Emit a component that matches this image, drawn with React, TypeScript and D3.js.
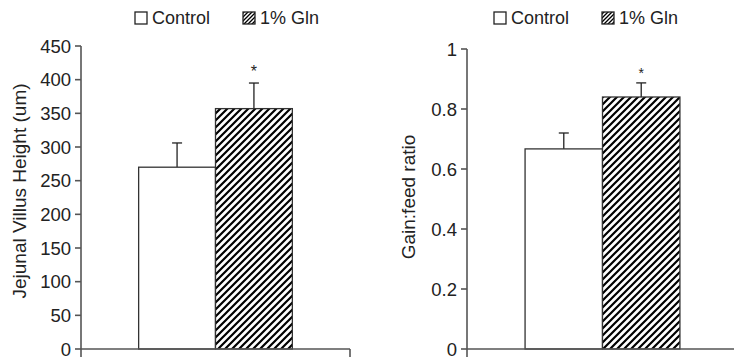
import React from "react";
import * as d3 from "d3";

const categories = ["Control", "1% Gln"];
const villusMean = [270, 357];
const villusSE = [36, 38];
const villusTicks = [0, 50, 100, 150, 200, 250, 300, 350, 400, 450];
const gainMean = [0.667, 0.84];
const gainSE = [0.053, 0.047];
const gainTicks = [0, 0.2, 0.4, 0.6, 0.8, 1];
const villusLabel = "Jejunal Villus Height (um)";
const gainLabel = "Gain:feed ratio";

const W = 734;
const H = 360;
const FONT = "'Liberation Sans', Arial, Helvetica, sans-serif";
const AXIS = "#555";
const INK = "#222";

type PanelProps = {
  x0: number;
  axisEnd: number;
  yMax: number;
  yTop: number;
  ticks: number[];
  means: number[];
  ses: number[];
  label: string;
  labelX: number;
  labelY: number;
  legendX: number[];
  starSize: number;
  starOffset: number;
  fmt: (v: number) => string;
};

function Panel(p: PanelProps) {
  const y0 = 349;
  const y = d3.scaleLinear().domain([0, p.yMax]).range([y0, p.yTop]);
  const x = d3
    .scaleBand<string>()
    .domain(categories)
    .range([p.x0, p.axisEnd])
    .paddingInner(0)
    .paddingOuter(0.75);
  const bw = x.bandwidth();
  return (
    <g>
      {/* legend */}
      <g fontFamily={FONT} fontSize={18} fill={INK}>
        <rect x={p.legendX[0]} y={12} width={12} height={12} fill="#fff" stroke={INK} strokeWidth={1.3} />
        <text x={p.legendX[0] + 17} y={24}>{categories[0]}</text>
        <rect x={p.legendX[1]} y={12} width={12} height={12} fill="url(#hatchSmall)" stroke={INK} strokeWidth={1.3} />
        <text x={p.legendX[1] + 17} y={24}>{categories[1]}</text>
      </g>
      {/* bars */}
      {categories.map((c, i) => {
        const bx = x(c)!;
        const top = y(p.means[i]);
        const cx = bx + bw / 2;
        const et = y(p.means[i] + p.ses[i]);
        return (
          <g key={c}>
            <line x1={cx} x2={cx} y1={top} y2={et} stroke={INK} strokeWidth={1.3} />
            <line x1={cx - 5} x2={cx + 5} y1={et} y2={et} stroke={INK} strokeWidth={1.3} />
            <rect
              x={bx}
              y={top}
              width={bw}
              height={y0 - top}
              fill={i === 0 ? "#fff" : "url(#hatch)"}
              stroke="#333"
              strokeWidth={1.3}
            />
            {i === 1 && (
              <text
                x={cx}
                y={et - p.starOffset}
                textAnchor="middle"
                fontFamily={FONT}
                fontSize={p.starSize}
                fill={INK}
              >
                *
              </text>
            )}
          </g>
        );
      })}
      {/* y axis */}
      <line x1={p.x0} x2={p.x0} y1={y(p.yMax)} y2={y0 + 8} stroke={AXIS} strokeWidth={1.6} />
      {p.ticks.map((t) => (
        <g key={t}>
          <line x1={p.x0 - 6} x2={p.x0} y1={y(t)} y2={y(t)} stroke={AXIS} strokeWidth={1.6} />
          <text
            x={p.x0 - 10}
            y={y(t)}
            dy="0.36em"
            textAnchor="end"
            fontFamily={FONT}
            fontSize={18.5}
            fill={INK}
          >
            {p.fmt(t)}
          </text>
        </g>
      ))}
      {/* x axis */}
      <line x1={p.x0} x2={p.axisEnd} y1={y0} y2={y0} stroke={AXIS} strokeWidth={1.6} />
      <line x1={p.axisEnd} x2={p.axisEnd} y1={y0} y2={y0 + 8} stroke={AXIS} strokeWidth={1.6} />
      <text
        transform={`translate(${p.labelX},${p.labelY}) rotate(-90)`}
        textAnchor="middle"
        dominantBaseline="central"
        fontFamily={FONT}
        fontSize={19}
        fill={INK}
      >
        {p.label}
      </text>
    </g>
  );
}

export default function App() {
  return (
    <svg
      width={W}
      height={H}
      viewBox={`0 0 ${W} ${H}`}
      style={{ position: "absolute", left: 0, top: 0, background: "#fff" }}
    >
      <defs>
        <pattern id="hatch" patternUnits="userSpaceOnUse" width={7} height={7}>
          <rect width={7} height={7} fill="#fff" />
          <path d="M-1,8 L8,-1 M-4,4 L4,-4 M3,11 L11,3" stroke="#000" strokeWidth={2.2} />
        </pattern>
        <pattern id="hatchSmall" patternUnits="userSpaceOnUse" width={4} height={4}>
          <rect width={4} height={4} fill="#fff" />
          <path d="M-1,5 L5,-1 M-2,2 L2,-2 M2,6 L6,2" stroke="#000" strokeWidth={1.3} />
        </pattern>
      </defs>
      <Panel
        x0={81}
        axisEnd={350}
        yMax={450}
        yTop={46}
        ticks={villusTicks}
        means={villusMean}
        ses={villusSE}
        label={villusLabel}
        labelX={19}
        labelY={191}
        legendX={[135, 243]}
        starSize={16}
        starOffset={6}
        fmt={(v) => String(v)}
      />
      <Panel
        x0={467}
        axisEnd={738}
        yMax={1}
        yTop={49}
        ticks={gainTicks}
        means={gainMean}
        ses={gainSE}
        label={gainLabel}
        labelX={408}
        labelY={197}
        legendX={[494, 602]}
        starSize={14}
        starOffset={5}
        fmt={(v) => (v === 0 || v === 1 ? String(v) : v.toFixed(1))}
      />
    </svg>
  );
}
